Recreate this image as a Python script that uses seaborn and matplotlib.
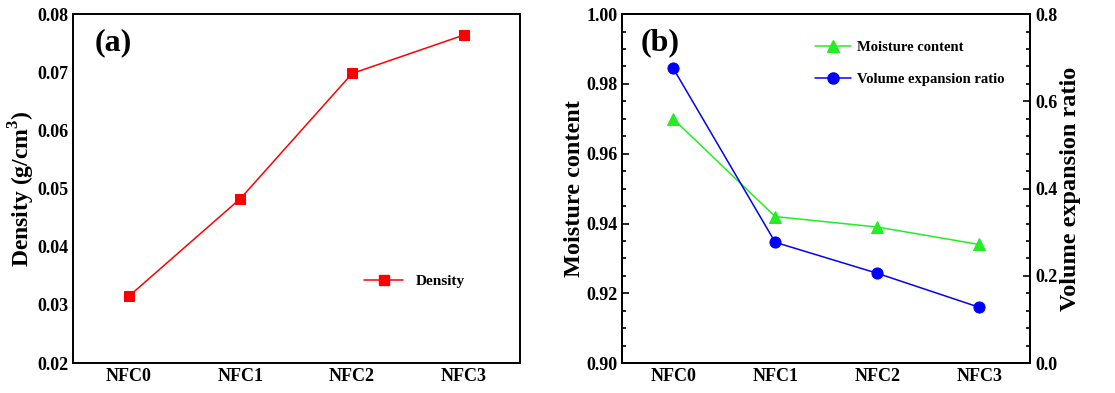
import matplotlib
matplotlib.use("Agg")
import matplotlib.pyplot as plt
import seaborn as sns
import pandas as pd
from matplotlib.ticker import MultipleLocator, AutoMinorLocator, FormatStrFormatter
from matplotlib.lines import Line2D

samples = ["NFC0", "NFC1", "NFC2", "NFC3"]
density = [0.0315, 0.0483, 0.0698, 0.0764]
moisture = [0.970, 0.942, 0.939, 0.934]
expansion = [0.676, 0.277, 0.206, 0.128]

sns.set_theme(style="white")
plt.rcParams["font.family"] = ["Liberation Serif", "DejaVu Serif"]
plt.rcParams["font.weight"] = "bold"
plt.rcParams["text.color"] = "black"
plt.rcParams["axes.labelcolor"] = "black"
plt.rcParams["mathtext.fontset"] = "custom"
plt.rcParams["mathtext.rm"] = "Liberation Serif:bold"
plt.rcParams["mathtext.bf"] = "Liberation Serif:bold"

df = pd.DataFrame({"sample": samples, "density": density,
                   "moisture": moisture, "expansion": expansion})

fig = plt.figure(figsize=(11.15, 3.93), dpi=100)
ax1 = fig.add_axes([0.0655, 0.076, 0.4005, 0.888])
ax2 = fig.add_axes([0.558, 0.076, 0.366, 0.888])

LABEL_SIZE = 17


def style_axis(ax):
    for s in ax.spines.values():
        s.set_linewidth(1.4)
        s.set_color("black")
    ax.tick_params(axis="both", which="both", direction="in", colors="black",
                   labelsize=13, width=1.2)
    ax.tick_params(axis="both", which="major", length=5)
    ax.tick_params(axis="both", which="minor", length=3)
    ax.tick_params(axis="x", which="minor", bottom=False, top=False)
    for lab in ax.get_xticklabels() + ax.get_yticklabels():
        lab.set_fontweight("bold")


# Panel (a): density
red = "#ff0000"
sns.lineplot(data=df, x="sample", y="density", ax=ax1, color=red, lw=1.1,
             marker="s", markersize=7, markeredgecolor=red, sort=False)
ax1.set_xlim(-0.5, 3.5)
ax1.set_ylim(0.02, 0.08)
ax1.yaxis.set_major_locator(MultipleLocator(0.01))
ax1.yaxis.set_minor_locator(AutoMinorLocator(5))
ax1.yaxis.set_major_formatter(FormatStrFormatter("%.2f"))
ax1.set_xlabel("")
ax1.set_ylabel("Density (g/cm$^{3}$)", fontsize=LABEL_SIZE, fontweight="bold",
               labelpad=0)
style_axis(ax1)
ax1.text(0.048, 0.96, "(a)", transform=ax1.transAxes, fontsize=23,
         fontweight="bold", va="top", ha="left")
h_d = Line2D([], [], color=red, lw=1.1, marker="s", markersize=7)
ax1.legend([h_d], ["Density"], loc="center left", bbox_to_anchor=(0.62, 0.235),
           frameon=False, prop={"size": 11, "weight": "bold"}, handlelength=2.6,
           handletextpad=0.8)

# Panel (b): moisture content and volume expansion ratio
green = "#22ee22"
blue = "#0000ff"
sns.lineplot(data=df, x="sample", y="moisture", ax=ax2, color=green, lw=1.1,
             marker="^", markersize=8.5, markeredgecolor=green, sort=False)
ax2.set_xlim(-0.5, 3.5)
ax2.set_ylim(0.90, 1.00)
ax2.yaxis.set_major_locator(MultipleLocator(0.02))
ax2.yaxis.set_minor_locator(AutoMinorLocator(4))
ax2.yaxis.set_major_formatter(FormatStrFormatter("%.2f"))
ax2.set_xlabel("")
ax2.set_ylabel("Moisture content", fontsize=LABEL_SIZE + 0.5, fontweight="bold",
               labelpad=1)

ax3 = ax2.twinx()
sns.lineplot(data=df, x="sample", y="expansion", ax=ax3, color=blue, lw=1.1,
             marker="o", markersize=8, markeredgecolor=blue, sort=False)
ax3.set_xlim(-0.5, 3.5)
ax3.set_ylim(0.0, 0.8)
ax3.yaxis.set_major_locator(MultipleLocator(0.2))
ax3.yaxis.set_minor_locator(AutoMinorLocator(5))
ax3.yaxis.set_major_formatter(FormatStrFormatter("%.1f"))
ax3.set_ylabel("Volume expansion ratio", fontsize=LABEL_SIZE + 0.5,
               fontweight="bold", labelpad=2)
style_axis(ax2)
style_axis(ax3)
ax3.tick_params(axis="y", which="both", left=False, right=True)
ax2.tick_params(axis="y", which="both", right=False)
ax2.text(0.045, 0.96, "(b)", transform=ax2.transAxes, fontsize=23,
         fontweight="bold", va="top", ha="left")
h_m = Line2D([], [], color=green, lw=1.1, marker="^", markersize=8.5)
h_v = Line2D([], [], color=blue, lw=1.1, marker="o", markersize=8)
ax3.legend([h_m, h_v], ["Moisture content", "Volume expansion ratio"],
           loc="upper left", bbox_to_anchor=(0.44, 0.96), frameon=False,
           prop={"size": 10.5, "weight": "bold"}, handlelength=2.5,
           handletextpad=0.4, labelspacing=1.25)

fig.savefig("out.png", dpi=100)
